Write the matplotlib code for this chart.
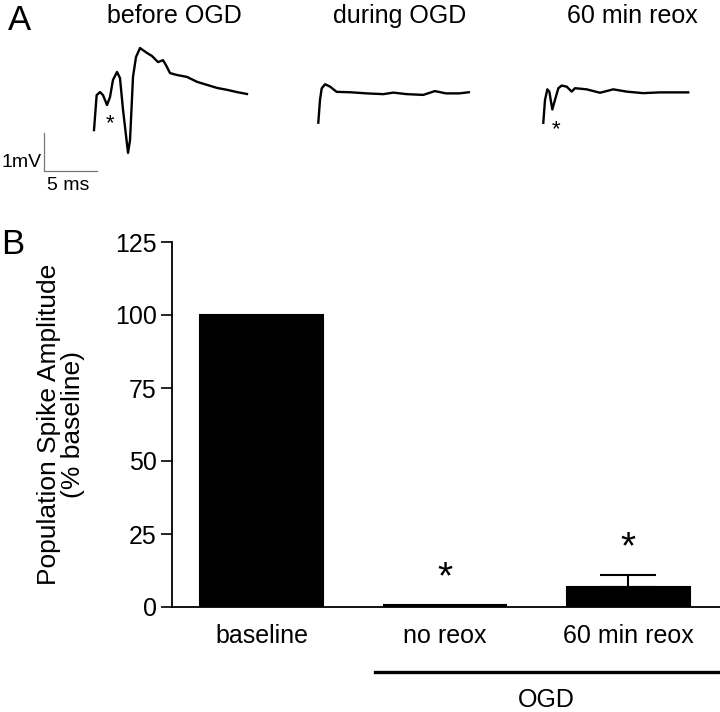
import matplotlib
matplotlib.use('Agg')
import matplotlib.pyplot as plt
import matplotlib.transforms as mtransforms

plt.rcParams['font.family'] = ['Liberation Sans', 'DejaVu Sans']

# --- panel A: field potential traces (time in ms, voltage in mV, relative to baseline) ---
trace_titles = ['before OGD', 'during OGD', '60 min reox']

before_t = [0, 0.25, 0.57, 0.85, 1.23, 1.51, 1.79, 2.17, 2.45, 2.74, 3.21, 3.40, 3.68, 3.96,
            4.34, 5.0, 5.47, 6.04, 6.51, 6.79, 7.17, 7.83, 8.77, 9.72, 10.66, 11.6, 12.55,
            13.49, 14.43]
before_v = [-0.95, -0.03, 0.05, -0.03, -0.29, -0.08, 0.37, 0.58, 0.42, -0.42, -1.55, -1.21,
            0.45, 0.97, 1.21, 1.08, 1.0, 0.84, 0.89, 0.76, 0.55, 0.50, 0.45, 0.32, 0.24, 0.16,
            0.11, 0.05, 0.0]

during_t = [0, 0.16, 0.32, 0.63, 1.10, 1.73, 2.99, 4.56, 6.13, 7.08, 8.33, 9.90, 11.0, 12.04,
            13.3, 14.2]
during_v = [-0.78, -0.18, 0.12, 0.23, 0.17, 0.03, 0.02, -0.01, -0.03, 0.01, -0.03, -0.05, 0.05,
            -0.01, -0.01, 0.02]

reox_t = [0, 0.16, 0.38, 0.57, 0.85, 1.10, 1.42, 1.74, 2.21, 2.68, 2.99, 4.09, 5.35, 6.6, 7.86,
          9.43, 11.0, 12.26, 13.67]
reox_v = [-0.81, -0.21, 0.07, 0.01, -0.46, -0.21, 0.10, 0.17, 0.14, 0.01, 0.10, 0.07, -0.02,
          0.07, 0.01, -0.03, -0.01, -0.01, -0.01]

# --- panel B: population spike amplitude ---
categories = ['baseline', 'no reox', '60 min reox']
amplitude = [100, 0.8, 7]
sem = [0, 0, 4]
significant = [False, True, True]

fig = plt.figure(figsize=(7.2, 7.12), dpi=100)

# panel A axes: 10.6 px per ms, 38 px per mV, covering y pixels 30..200
px_ms = 10.6
px_mv = 38.0
axA = fig.add_axes([0, 1 - 200 / 712, 1, 170 / 712])
axA.set_xlim(0, 720 / px_ms)
axA.set_ylim(0, 170 / px_mv)
axA.axis('off')

starts_px = [94, 318.3, 543.3]
base_px = [94, 93, 92]
traces = [(before_t, before_v), (during_t, during_v), (reox_t, reox_v)]
for (tt, vv), sx, by in zip(traces, starts_px, base_px):
    x0 = sx / px_ms
    y0 = (200 - by) / px_mv
    axA.plot([x0 + t for t in tt], [y0 + v for v in vv], color='black', lw=1.7,
             solid_joinstyle='round')

# asterisks under the first negative deflection
axA.text(110 / px_ms, (200 - 124) / px_mv, '*', fontsize=16, ha='center', va='center')
axA.text(556 / px_ms, (200 - 130) / px_mv, '*', fontsize=16, ha='center', va='center')

# scale bar 5 ms / 1 mV
sbx = 44 / px_ms
sby = (200 - 171) / px_mv
axA.plot([sbx, sbx, sbx + 5], [sby + 1, sby, sby], color='#777777', lw=0.9)
axA.text(sbx - 0.2, sby + 0.22, '1mV', fontsize=14, ha='right', va='center')
axA.text(sbx + 2.3, sby - 0.15, '5 ms', fontsize=14, ha='center', va='top')

fig.text(20 / 720, 1 - 20 / 712, 'A', fontsize=25, ha='center', va='center')
for title, cx in zip(trace_titles, [174, 400, 632]):
    fig.text(cx / 720, 1 - 16 / 712, title, fontsize=18, ha='center', va='center')

# panel B
axB = fig.add_axes([172 / 720, 1 - 607 / 712, 548 / 720, 365 / 712])
xs = list(range(len(categories)))
axB.bar(xs, amplitude, width=0.67, color='black', edgecolor='black', lw=1.5)
axB.errorbar(xs[2], amplitude[2], yerr=[[0], [sem[2]]], fmt='none', ecolor='black',
             elinewidth=1.5, capsize=20, capthick=1.5)
for x, a, e, s in zip(xs, amplitude, sem, significant):
    if s:
        axB.text(x, a + e + 9, '*', fontsize=28, ha='center', va='center')

axB.set_xlim(-0.49, 2.5)
axB.set_ylim(0, 125)
axB.set_yticks([0, 25, 50, 75, 100, 125])
axB.set_xticks(xs)
axB.set_xticklabels(categories, fontsize=18)
axB.tick_params(axis='x', length=0, pad=12)
axB.tick_params(axis='y', labelsize=18, length=8, width=1.2, pad=3)
for side in ['top', 'right']:
    axB.spines[side].set_visible(False)
for side in ['left', 'bottom']:
    axB.spines[side].set_linewidth(1.3)

axB.set_ylabel('Population Spike Amplitude\n(% baseline)', fontsize=19, linespacing=1.0)
axB.yaxis.set_label_coords(-0.158, 0.5)

# OGD group bar
trans = mtransforms.blended_transform_factory(axB.transData, axB.transAxes)
axB.plot([0.62, 2.49], [-0.178, -0.178], color='black', lw=2.4, transform=trans, clip_on=False)
axB.text(1.55, -0.255, 'OGD', fontsize=18, ha='center', va='center', transform=trans)

fig.text(13 / 720, 1 - 245 / 712, 'B', fontsize=25, ha='center', va='center')

fig.savefig('out.png', dpi=100)
